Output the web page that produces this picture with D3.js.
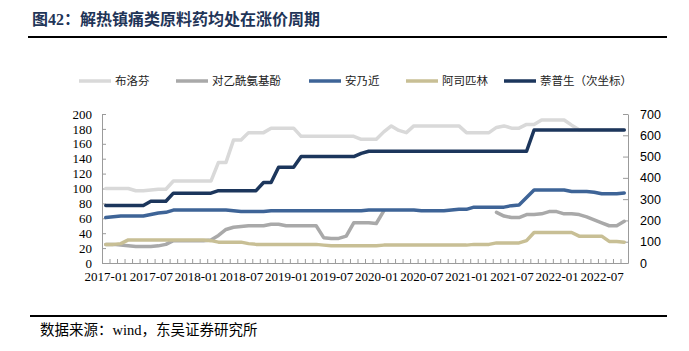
<!DOCTYPE html>
<html>
<head>
<meta charset="utf-8">
<script src="https://cdn.jsdelivr.net/npm/d3@7"></script>
<style>
  body { margin: 0; background: #fff; }
  svg { display: block; }
</style>
</head>
<body>
<div id="chart"></div>
<script>
// monthly price series, 2017-01 .. 2022-10
const months = d3.timeMonth.range(new Date(2017, 0, 1), new Date(2022, 10, 1)).map(d3.timeFormat('%Y-%m'));
const xLabels = ['2017-01','2017-07','2018-01','2018-07','2019-01','2019-07','2020-01','2020-07','2021-01','2021-07','2022-01','2022-07'];
const leftTicks = [0,20,40,60,80,100,120,140,160,180,200];
const rightTicks = [0,100,200,300,400,500,600,700];

const ibuprofen = [100,100,100,100,97,97,98,99,99,110,110,110,110,110,110,135,135,165,165,175,175,175,181,181,181,181,
  170,170,170,170,170,170,170,170,166,166,166,176,184,178,175,184,184,184,184,184,184,184,175,175,175,175,
  182,184,181,181,186,186,192,192,192,192,185,179,179,179,179,179,179,179];
const paracetamol = [25,25,24,23,22,22,22,23,25,30,30,30,30,30,31,37,45,48,49,50,50,50,52,52,50,50,50,50,50,34,
  33,33,36,54,54,54,53,70,null,null,null,null,null,null,null,null,null,null,null,null,null,null,
  68,63,61,61,65,65,66,69,69,66,66,65,62,58,54,50,50,56];
const metamizole = [61,62,63,63,63,63,65,67,68,71,71,71,71,71,71,71,71,70,69,69,69,69,70,70,70,70,70,70,70,70,
  70,70,70,70,70,71,71,71,71,71,71,71,70,70,70,70,71,72,72,75,75,75,75,75,77,78,88,98,98,98,98,98,96,96,96,95,93,93,93,94];
const aspirin = [25,25,26,31,31,31,31,31,31,31,31,31,31,31,30,28,28,28,28,26,25,25,25,25,25,25,25,25,25,24,
  23,23,23,23,23,23,23,24,24,24,24,24,24,24,24,24,24,24,24,25,25,25,27,27,27,27,30,41,41,41,41,41,41,36,36,36,36,29,29,28];
const naproxen = [270,270,270,270,270,270,290,290,290,328,328,328,328,328,328,340,340,340,340,340,340,378,378,450,450,450,
  500,500,500,500,500,500,500,500,515,525,525,525,525,525,525,525,525,525,525,525,525,525,525,525,525,525,525,525,525,525,525,
  625,625,625,625,625,625,625,625,625,625,625,625,625];

const series = [
  { name: '布洛芬', values: ibuprofen, color: '#d9d9d9', axis: 'left' },
  { name: '对乙酰氨基酚', values: paracetamol, color: '#a9a9a9', axis: 'left' },
  { name: '安乃近', values: metamizole, color: '#3e6497', axis: 'left' },
  { name: '阿司匹林', values: aspirin, color: '#c8bf95', axis: 'left' },
  { name: '萘普生（次坐标）', values: naproxen, color: '#1c365c', axis: 'right' }
];

const width = 689, height = 351;
const plot = { left: 102, right: 628, top: 114, bottom: 263 };

const svg = d3.select('#chart').append('svg')
    .attr('width', width).attr('height', height);

// title + rules
svg.append('text')
    .attr('x', 32).attr('y', 25)
    .attr('font-family', '"Liberation Serif", "Noto Sans CJK SC", serif')
    .attr('font-weight', 'bold').attr('font-size', 16)
    .attr('fill', '#1f3558')
    .text('图42：解热镇痛类原料药均处在涨价周期');
svg.append('line').attr('x1', 28).attr('x2', 667).attr('y1', 37).attr('y2', 37)
    .attr('stroke', '#000').attr('stroke-width', 2);
svg.append('line').attr('x1', 30).attr('x2', 667).attr('y1', 316).attr('y2', 316)
    .attr('stroke', '#000').attr('stroke-width', 2);
svg.append('text')
    .attr('x', 40).attr('y', 335)
    .attr('font-family', '"Liberation Serif", "Noto Sans CJK SC", serif')
    .attr('font-size', 14.5).attr('fill', '#000')
    .text('数据来源：wind，东吴证券研究所');

// scales
const x = d3.scaleLinear().domain([0, months.length]).range([plot.left, plot.right]);
const xc = i => x(i + 0.5);
const yL = d3.scaleLinear().domain([0, 200]).range([plot.bottom, plot.top]);
const yR = d3.scaleLinear().domain([0, 700]).range([plot.bottom, plot.top]);

const axisColor = '#9b9b9b';

// left axis
const gl = svg.append('g').attr('transform', `translate(${plot.left},0)`)
    .call(d3.axisLeft(yL).tickValues(leftTicks).tickSize(-4).tickPadding(10).tickSizeOuter(0));
gl.selectAll('text').attr('font-family', '"Liberation Serif", serif').attr('font-size', 13).attr('fill', '#000');

// right axis
const gr = svg.append('g').attr('transform', `translate(${plot.right},0)`)
    .call(d3.axisRight(yR).tickValues(rightTicks).tickSize(-5).tickPadding(12).tickSizeOuter(0));
gr.selectAll('text').attr('font-family', '"Liberation Sans", Arial, sans-serif').attr('font-size', 12.5).attr('fill', '#000');

// x axis ticks at month boundaries
const gx = svg.append('g').attr('transform', `translate(0,${plot.bottom})`)
    .call(d3.axisBottom(x).tickValues(d3.range(months.length + 1)).tickSize(-4).tickSizeOuter(0).tickFormat(''));
const gxl = svg.append('g').attr('transform', `translate(0,${plot.bottom})`)
    .call(d3.axisBottom(x).tickValues(xLabels.map(l => months.indexOf(l) + 0.5))
      .tickSize(0).tickPadding(9).tickFormat(v => months[Math.floor(v)]));
gxl.select('.domain').remove();
gxl.selectAll('text').attr('font-family', '"Liberation Serif", serif').attr('font-size', 13).attr('fill', '#000');

[gl, gr, gx].forEach(g => {
  g.select('.domain').attr('stroke', axisColor);
  g.selectAll('.tick line').attr('stroke', axisColor);
});

// lines
series.forEach(s => {
  const y = s.axis === 'left' ? yL : yR;
  const line = d3.line()
      .defined(d => d != null)
      .x((d, i) => xc(i))
      .y(d => y(d));
  svg.append('path')
      .datum(s.values)
      .attr('fill', 'none')
      .attr('stroke', s.color)
      .attr('stroke-width', 3.5)
      .attr('stroke-linejoin', 'round')
      .attr('stroke-linecap', 'round')
      .attr('d', line);
});

// legend
const legendX = [79, 176, 309, 406, 504];
const lg = svg.append('g').attr('transform', 'translate(0,81)');
series.forEach((s, i) => {
  lg.append('line')
      .attr('x1', legendX[i]).attr('x2', legendX[i] + 32)
      .attr('y1', 0).attr('y2', 0)
      .attr('stroke', s.color).attr('stroke-width', 3.5);
  lg.append('text')
      .attr('x', legendX[i] + 36).attr('y', 4)
      .attr('font-family', '"Noto Sans CJK SC", sans-serif')
      .attr('font-size', 11.5).attr('fill', '#222')
      .text(s.name);
});
</script>
</body>
</html>
